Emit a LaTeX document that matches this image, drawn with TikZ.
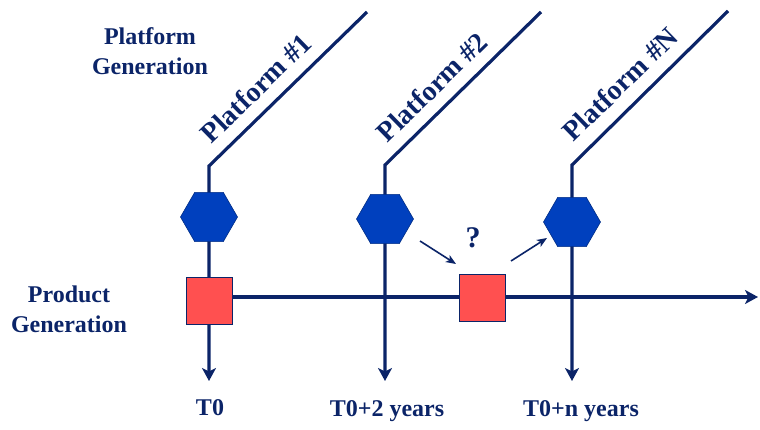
\documentclass[tikz,border=0pt]{standalone}
\usepackage{fontspec}
\setmainfont{Liberation Serif}
\usetikzlibrary{shapes.geometric,arrows.meta,backgrounds}
\definecolor{navy}{HTML}{0B2468}
\definecolor{hexblue}{HTML}{0040BE}
\definecolor{sqred}{HTML}{FF5050}
\begin{document}
\begin{tikzpicture}[x=1pt,y=-1pt,
  line/.style={navy, line width=3.2pt},
  arr/.style={line, -{Stealth[length=13pt,width=14pt,inset=3.5pt]}},
  small/.style={navy, line width=1.6pt, -{Stealth[length=10pt,width=8pt,inset=2.5pt]}},
  hexa/.style={regular polygon, regular polygon sides=6, minimum size=57pt, inner sep=0pt, fill=hexblue, draw=hexblue!70!black, line width=0.6pt},
  sq/.style={minimum width=46pt, minimum height=47pt, inner sep=0pt, fill=sqred, draw=navy, line width=0.8pt},
  lbl/.style={text=navy, font=\bfseries\fontsize{24}{30}\selectfont, align=center},
  plat/.style={text=navy, font=\bfseries\fontsize{28}{30}\selectfont, rotate=44.3}]
\useasboundingbox (0,0) rectangle (760,430);

% coordinates
\coordinate (t1) at (367,12);  \coordinate (c1) at (209,166); \coordinate (e1) at (209,381);
\coordinate (t2) at (541,12);  \coordinate (c2) at (385,165); \coordinate (e2) at (385,381);
\coordinate (t3) at (728,11);  \coordinate (c3) at (572,165); \coordinate (e3) at (572,381);
\coordinate (hend) at (758,297);
\coordinate (a1s) at (420,241); \coordinate (a1e) at (456,264);
\coordinate (a2s) at (511,261); \coordinate (a2e) at (547,238);

% nodes
\node[hexa] (h1) at (209,217) {};
\node[hexa] (h2) at (385,219) {};
\node[hexa] (h3) at (572,222) {};
\node[sq] (s1) at (209,301) {};
\node[sq] (s2) at (482,298) {};

\node[lbl] (pg) at (150,51) {Platform\\Generation};
\node[lbl] (prg) at (69,309) {Product\\Generation};
\node[lbl] (l1) at (210,408) {T0};
\node[lbl] (l2) at (387,411) {T0+2 years};
\node[lbl] (l3) at (581,411) {T0+n years};
\node[lbl, font=\bfseries\fontsize{30}{30}\selectfont] (q) at (473,238) {?};

\node[plat] (p1) at (256,88) {Platform \#1};
\node[plat] (p2) at (432,87) {Platform \#2};
\node[plat] (p3) at (620,84) {Platform \#N};

\begin{pgfonlayer}{background}
  \draw[arr] (t1) -- (c1) -- (e1);
  \draw[arr] (t2) -- (c2) -- (e2);
  \draw[arr] (t3) -- (c3) -- (e3);
  \draw[arr] (s1.center |- hend) -- (hend);
\end{pgfonlayer}
\draw[small] (a1s) -- (a1e);
\draw[small] (a2s) -- (a2e);
\end{tikzpicture}
\end{document}
